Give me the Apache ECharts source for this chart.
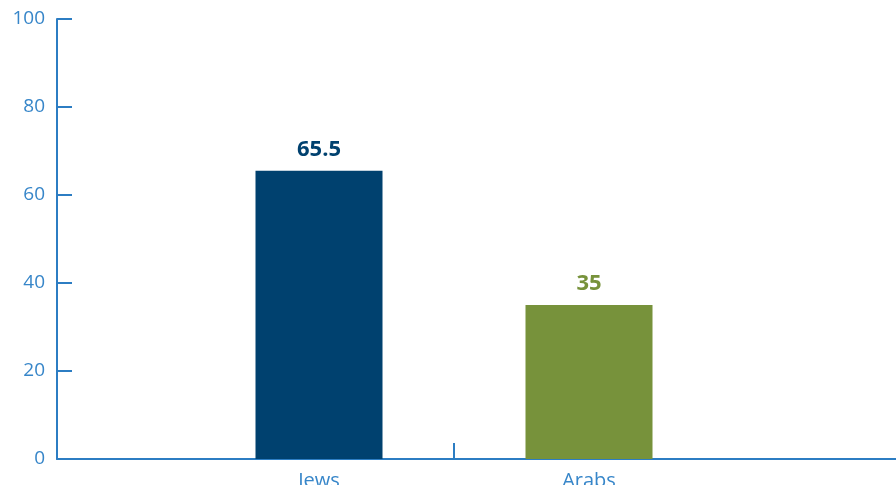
<!DOCTYPE html>
<html>
<head>
<meta charset="utf-8">
<script src="https://cdn.jsdelivr.net/npm/echarts@6/dist/echarts.min.js"></script>
<style>
  html, body { margin: 0; padding: 0; background: #ffffff; overflow: hidden; }
  #chart { width: 896px; height: 485px; }
</style>
</head>
<body>
<div id="chart"></div>
<script>
// Category names (the trailing blank slot keeps the axis running on past the bars)
const categories = ['Jews', 'Arabs', ''];
// Values per group; '-' marks an empty slot
const jewsValues  = [65.5, '-', '-'];
const arabsValues = ['-', 35, '-'];
// Value axis range
const yMin = 0, yMax = 100, yStep = 20;

const axisBlue = '#2c7dc3';
const labelBlue = '#3786c9';
const barWidth = 127;

const catText = { color: labelBlue, fontSize: 20, fontFamily: 'Open Sans' };

const chart = echarts.init(document.getElementById('chart'), null, { renderer: 'canvas' });

chart.setOption({
  animation: false,
  backgroundColor: '#ffffff',
  grid: {
    left: 57, top: 19, height: 440, width: 1191,
    containLabel: false, outerBoundsMode: 'none'
  },
  xAxis: {
    type: 'category',
    data: categories,
    boundaryGap: true,
    axisLine: { show: true, lineStyle: { color: axisBlue, width: 2 } },
    axisTick: {
      show: true, inside: true, length: 16,
      interval: (i) => i < 2,
      lineStyle: { color: axisBlue, width: 2 }
    },
    axisLabel: {
      color: labelBlue, fontSize: 20, fontFamily: 'Open Sans', margin: 12,
      // each name sits under its own bar, which is offset half a bar from the band centre
      formatter: (v, i) => i === 0 ? '{right|' + v + '}' : (i === 1 ? '{left|' + v + '}' : v),
      rich: {
        right: Object.assign({ padding: [0, 0, 0, barWidth] }, catText),
        left: Object.assign({ padding: [0, barWidth, 0, 0] }, catText)
      }
    },
    splitLine: { show: false }
  },
  yAxis: {
    type: 'value',
    min: yMin, max: yMax, interval: yStep,
    axisLine: { show: true, lineStyle: { color: axisBlue, width: 2 } },
    axisTick: { show: true, inside: true, length: 15, lineStyle: { color: axisBlue, width: 2 } },
    axisLabel: { color: labelBlue, fontSize: 19, fontFamily: 'Open Sans', margin: 12 },
    splitLine: { show: false }
  },
  series: [
    {
      name: 'Arabs',
      type: 'bar',
      data: arabsValues,
      barWidth: barWidth,
      barGap: '0%',
      itemStyle: { color: '#77923b' },
      label: {
        show: true, position: 'top', distance: 10,
        color: '#77923b', fontSize: 22, fontWeight: 'bold', fontFamily: 'Open Sans'
      }
    },
    {
      name: 'Jews',
      type: 'bar',
      data: jewsValues,
      barWidth: barWidth,
      barGap: '0%',
      itemStyle: { color: '#00416f' },
      label: {
        show: true, position: 'top', distance: 10,
        color: '#00416f', fontSize: 22, fontWeight: 'bold', fontFamily: 'Open Sans'
      }
    }
  ]
});
</script>
</body>
</html>
